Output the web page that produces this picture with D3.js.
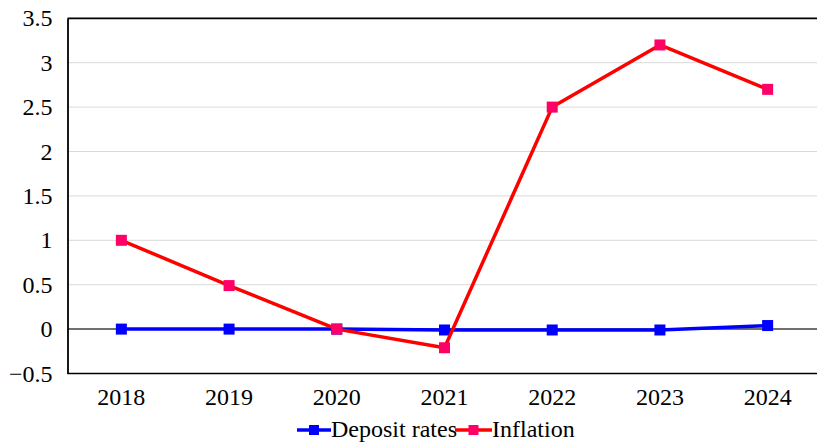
<!DOCTYPE html>
<html><head><meta charset="utf-8">
<script src="https://cdn.jsdelivr.net/npm/d3@7"></script>
<style>html,body{margin:0;padding:0;background:#fff;overflow:hidden} svg text{font-family:"Liberation Serif","Times New Roman",serif !important;}</style>
</head><body><svg id="c" width="817" height="443"></svg>
<script>
const years = ["2018","2019","2020","2021","2022","2023","2024"];
const depositRates = [0, 0, 0, -0.01, -0.01, -0.01, 0.04];
const inflation = [1.0, 0.49, 0.0, -0.21, 2.5, 3.2, 2.7];
const yTicks = [-0.5, 0, 0.5, 1, 1.5, 2, 2.5, 3, 3.5];
const seriesNames = ["Deposit rates", "Inflation"];

const svg = d3.select("#c");
const font = "Liberation Serif";
const x = d3.scaleBand().domain(years).range([67.5, 821.5]);
const y = d3.scaleLinear().domain([-0.5, 3.5]).range([373.5, 18.3]);
const cx = d => x(d) + x.bandwidth()/2;

// gridlines
svg.append("g").selectAll("line").data(yTicks.filter(t => t !== 0 && t !== -0.5 && t !== 3.5))
  .join("line").attr("x1", 67.5).attr("x2", 817).attr("y1", d => y(d)).attr("y2", d => y(d))
  .attr("stroke", "#d9d9d9").attr("stroke-width", 1);
// top border
svg.append("line").attr("x1", 67.5).attr("x2", 817).attr("y1", y(3.5)).attr("y2", y(3.5))
  .attr("stroke", "#000").attr("stroke-width", 1.8);
// zero line
svg.append("line").attr("x1", 67.5).attr("x2", 817).attr("y1", y(0)).attr("y2", y(0))
  .attr("stroke", "#404040").attr("stroke-width", 1.5);
// bottom axis
const xAxis = d3.axisBottom(x).tickSize(0).tickPadding(14);
const gx = svg.append("g").attr("transform", `translate(0,${y(-0.5)})`).call(xAxis)
  .attr("font-family", font).attr("font-size", 24);
gx.select(".domain").attr("stroke", "#000").attr("stroke-width", 1.5).attr("d", "M67.5,0H817");
gx.selectAll("text").attr("fill", "#000").attr("dy", "0.71em");
// left axis
const yAxis = d3.axisLeft(y).tickValues(yTicks).tickSize(0).tickPadding(15).tickFormat(d3.format(""));
const gy = svg.append("g").attr("transform", "translate(67.5,0)").call(yAxis)
  .attr("font-family", font).attr("font-size", 24);
gy.select(".domain").attr("stroke", "#000").attr("stroke-width", 1.8);
gy.selectAll("text").attr("fill", "#000");

const line = d3.line().x((d,i) => cx(years[i])).y(d => y(d));
const series = [
  {name: seriesNames[0], values: depositRates, line: "#0000ff", marker: "#0000ff"},
  {name: seriesNames[1], values: inflation, line: "#ff0000", marker: "#ff0066"}
];
series.forEach(s => {
  svg.append("path").datum(s.values).attr("d", line).attr("fill", "none")
    .attr("stroke", s.line).attr("stroke-width", 3.5).attr("stroke-linejoin", "round");
  svg.append("g").selectAll("rect").data(s.values).join("rect")
    .attr("x", (d,i) => cx(years[i]) - 5.5).attr("y", d => y(d) - 5.5)
    .attr("width", 11).attr("height", 11).attr("fill", s.marker);
});

// legend
const lg = [{x0: 297, x1: 331, tx: 331}, {x0: 455, x1: 492, tx: 492}];
series.forEach((s, i) => {
  const L = lg[i], ly = 430;
  svg.append("line").attr("x1", L.x0).attr("x2", L.x1).attr("y1", ly).attr("y2", ly)
    .attr("stroke", s.line).attr("stroke-width", 3.5);
  svg.append("rect").attr("x", (L.x0+L.x1)/2 - 5).attr("y", ly - 5).attr("width", 10).attr("height", 10).attr("fill", s.marker);
  svg.append("text").attr("x", L.tx).attr("y", 437).attr("font-family", font).attr("font-size", 24)
    .attr("fill", "#000").text(s.name);
});
</script></body></html>
